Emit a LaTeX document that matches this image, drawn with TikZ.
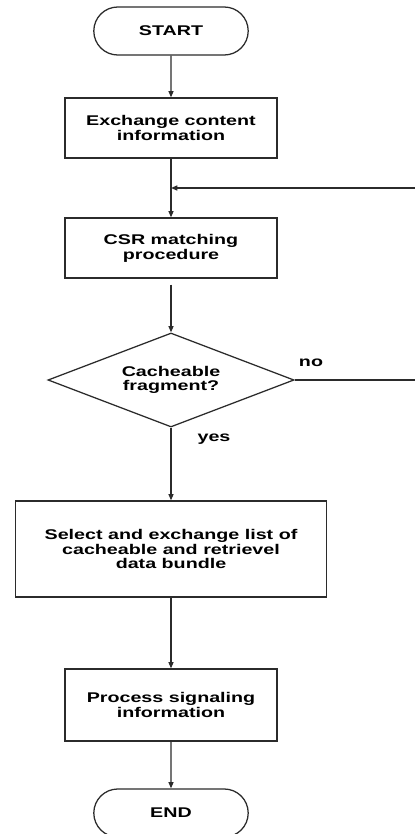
\documentclass[tikz,border=0pt]{standalone}
\usepackage{fontspec}
\setmainfont{Liberation Sans}[FakeStretch=1.4]
\usetikzlibrary{arrows.meta,shapes.geometric,shapes.misc}
\definecolor{flowink}{HTML}{2B2B2B}
\newcommand{\fcfont}{\fontsize{10}{10.5}\selectfont\bfseries}
\tikzset{
  bx/.style={draw=flowink, line width=0.9pt, align=center, font=\fcfont, inner sep=2pt},
  proc/.style={bx, rectangle, minimum width=5.3cm},
  term/.style={bx, rounded rectangle, minimum width=4cm, minimum height=1.2cm},
  dec/.style={bx, diamond, aspect=2.6, minimum width=6.15cm, minimum height=2.35cm, inner sep=0pt},
  arr/.style={-{Triangle[length=4.5pt,width=3.6pt]}, line width=0.9pt, color=flowink},
  lbl/.style={font=\fcfont},
}
\begin{document}
\begin{tikzpicture}[x=0.025cm, y=-0.025cm]
  \useasboundingbox (0,0) rectangle (414,834);
  % main column, positions in reference pixels
  \node[term] (start) at (171,31) {START};
  \node[proc, minimum height=1.5cm] (exch) at (171,128) {Exchange content\\information};
  \coordinate (join) at (171,188);
  \node[proc, minimum height=1.5cm] (csr) at (171,248) {CSR matching\\procedure};
  \node[dec] (cache) at (171,380) {Cacheable\\fragment?};
  \node[proc, minimum width=7.775cm, minimum height=2.4cm] (sel) at (171,549) {Select and exchange list of\\cacheable and retrievel\\data bundle};
  \node[proc, minimum height=1.8cm] (sig) at (171,705) {Process signaling\\information};
  \node[term] (stop) at (171,813) {END};
  % connectors
  \draw[arr] (start) -- (exch);
  \draw[arr] (exch) -- (csr);
  \draw[arr, shorten <=0.15cm] (csr) -- (cache);
  \draw[arr] (cache) -- (sel);
  \draw[arr] (sel) -- (sig);
  \draw[arr] (sig) -- (stop);
  % "no" branch runs off the right edge and back up
  \coordinate (edge) at (420,380);
  \draw[arr] (cache.east) -- (edge) |- (join);
  \node[lbl] (no) at (311,363) {no};
  \node[lbl] (yes) at (214,439) {yes};
\end{tikzpicture}
\end{document}
